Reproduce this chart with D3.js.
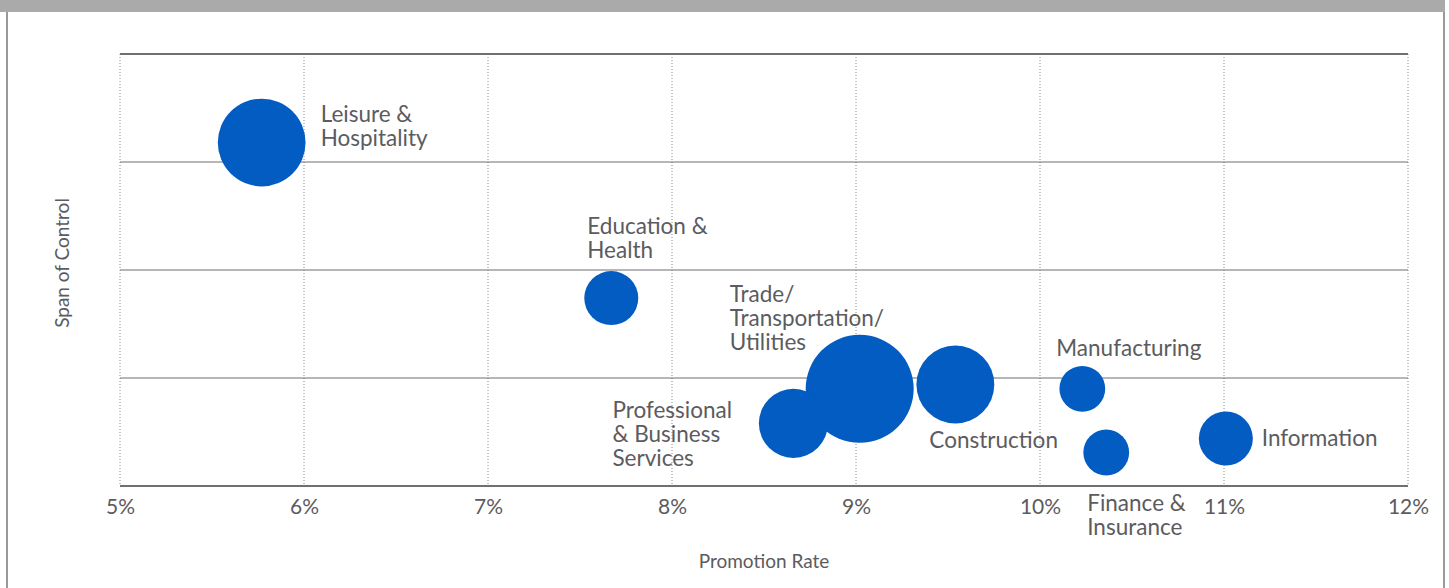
<!DOCTYPE html>
<html>
<head>
<meta charset="utf-8">
<script src="https://cdn.jsdelivr.net/npm/d3@7"></script>
<style>
  body { margin: 0; background: #fff; }
  svg { display: block; font-family: Lato, "Open Sans", sans-serif; }
</style>
</head>
<body>
<div id="chart"></div>
<script>
// industries, promotion rate (%), span of control (axis units), bubble size (relative)
const industries = ["Leisure & Hospitality", "Education & Health", "Trade/Transportation/Utilities",
  "Professional & Business Services", "Construction", "Manufacturing", "Finance & Insurance", "Information"];
const promotionRate = [5.77, 7.67, 9.02, 8.66, 9.54, 10.23, 10.36, 11.01];
const spanOfControl = [3.18, 1.74, 0.90, 0.58, 0.94, 0.90, 0.31, 0.44];
const bubbleSize = [66, 25, 100, 41, 52, 18, 18, 25];
const xTicks = [5, 6, 7, 8, 9, 10, 11, 12];
const yTicks = [0, 1, 2, 3, 4];

// label text lines and where they sit relative to the bubble centre (layout only)
const labelLines = [["Leisure &", "Hospitality"], ["Education &", "Health"], ["Trade/", "Transportation/", "Utilities"],
  ["Professional", "& Business", "Services"], ["Construction"], ["Manufacturing"], ["Finance &", "Insurance"], ["Information"]];
const labelOffset = [[59, -21], [-24, -64], [-130, -87], [-181, -5], [-26, 64], [-26, -33], [-19, 58], [36, 8]];

const width = 1449, height = 588;
const margin = {top: 54, right: 41, bottom: 102, left: 120};
const textColor = "#5b5b60";
const bubbleColor = "#035cc1";

const svg = d3.select("#chart").append("svg")
    .attr("width", width)
    .attr("height", height);

// frame
svg.append("rect").attr("x", 0).attr("y", 0).attr("width", 1445).attr("height", 12).attr("fill", "#aaaaaa");
svg.append("line").attr("x1", 7).attr("x2", 7).attr("y1", 12).attr("y2", height)
    .attr("stroke", "#777").attr("stroke-width", 1.5);
svg.append("line").attr("x1", 1444).attr("x2", 1444).attr("y1", 12).attr("y2", height)
    .attr("stroke", "#777").attr("stroke-width", 1.5);

const x = d3.scaleLinear().domain([5, 12]).range([margin.left, width - margin.right]);
const y = d3.scaleLinear().domain([0, 4]).range([height - margin.bottom, margin.top]);
const r = d3.scaleSqrt().domain([0, 100]).range([0, 54]);

// vertical dotted grid
svg.append("g").selectAll("line")
  .data(xTicks)
  .join("line")
    .attr("x1", d => x(d)).attr("x2", d => x(d))
    .attr("y1", y(4)).attr("y2", y(0))
    .attr("stroke", "#888")
    .attr("stroke-width", 1)
    .attr("stroke-dasharray", "1,2");

// horizontal solid grid
svg.append("g").selectAll("line")
  .data(yTicks)
  .join("line")
    .attr("x1", x(5)).attr("x2", x(12))
    .attr("y1", d => y(d)).attr("y2", d => y(d))
    .attr("stroke", "#6f6f74")
    .attr("stroke-width", d => (d === 0 || d === 4) ? 2 : 1.2);

// x axis labels
const xAxis = svg.append("g")
    .attr("transform", "translate(0," + y(0) + ")")
    .call(d3.axisBottom(x).tickValues(xTicks).tickFormat(d => d + "%").tickSize(0).tickPadding(13));
xAxis.select(".domain").remove();
xAxis.selectAll("text")
    .attr("fill", textColor)
    .style("font-size", "21px")
    .style("font-family", "Lato, sans-serif");

// axis titles
svg.append("text")
    .attr("x", (x(5) + x(12)) / 2)
    .attr("y", 568)
    .attr("text-anchor", "middle")
    .attr("fill", textColor)
    .style("font-size", "19px")
    .text("Promotion Rate");

svg.append("text")
    .attr("transform", "translate(69," + 263 + ") rotate(-90)")
    .attr("text-anchor", "middle")
    .attr("fill", textColor)
    .style("font-size", "19px")
    .text("Span of Control");

// bubbles, biggest first so small ones sit on top
const rows = industries.map((name, i) => ({
  name, rate: promotionRate[i], span: spanOfControl[i], size: bubbleSize[i],
  lines: labelLines[i], off: labelOffset[i]
}));

svg.append("g").selectAll("circle")
  .data(rows.slice().sort((a, b) => b.size - a.size))
  .join("circle")
    .attr("cx", d => x(d.rate))
    .attr("cy", d => y(d.span))
    .attr("r", d => r(d.size))
    .attr("fill", bubbleColor);

// labels, one text element per line
const labelData = rows.flatMap(d => d.lines.map((t, i) => ({
  t, lx: x(d.rate) + d.off[0], ly: y(d.span) + d.off[1] + i * 24
})));

svg.append("g").selectAll("text")
  .data(labelData)
  .join("text")
    .attr("x", d => d.lx)
    .attr("y", d => d.ly)
    .attr("fill", textColor)
    .style("font-size", "22.5px")
    .text(d => d.t);
</script>
</body>
</html>
